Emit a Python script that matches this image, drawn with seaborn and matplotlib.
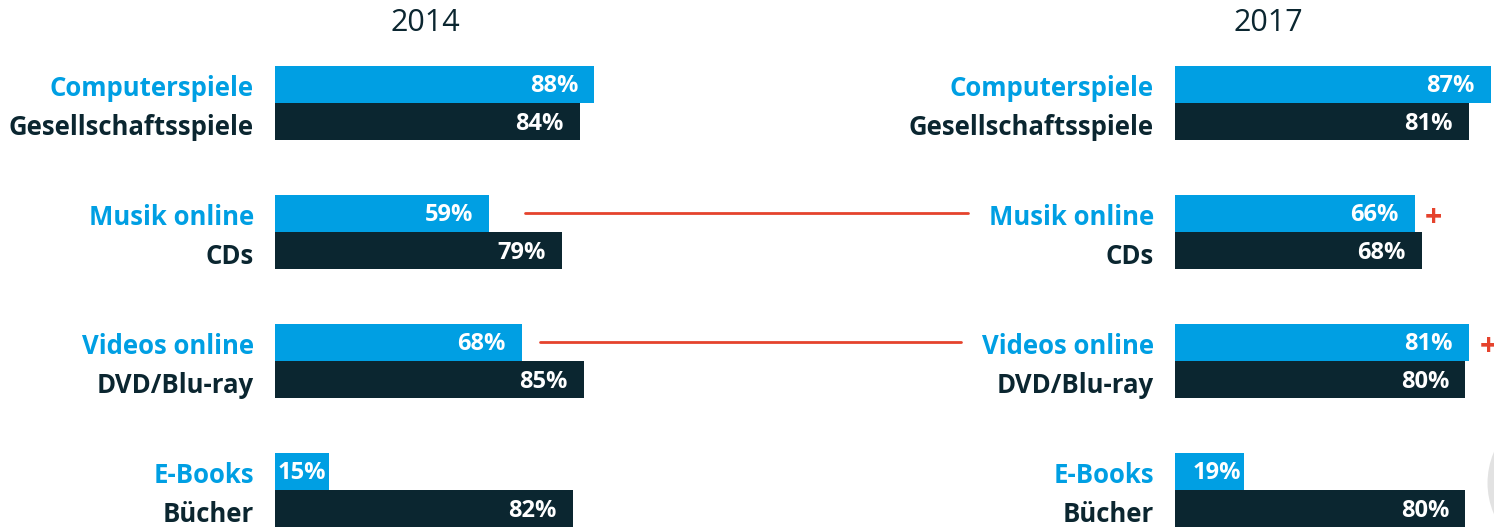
import pandas as pd
import matplotlib.pyplot as plt
import matplotlib.patches as mpatches
from matplotlib.lines import Line2D
import seaborn as sns

# Values.
digital_names = ['Computerspiele', 'Musik online', 'Videos online', 'E-Books']
physical_names = ['Gesellschaftsspiele', 'CDs', 'DVD/Blu-ray', 'Bücher']
digital_2014 = [88, 59, 68, 15]
physical_2014 = [84, 79, 85, 82]
digital_2017 = [87, 66, 81, 19]
physical_2017 = [81, 68, 80, 80]
years = ['2014', '2017']
growth_rows = [1, 2]  # rows marked with a red line and "+"

BLUE = '#009fe3'
DARK = '#0b2630'
RED = '#e5432d'

sns.set_style('white')
plt.rcParams['font.family'] = ['Open Sans', 'DejaVu Sans']

W, H = 1494, 528
fig = plt.figure(figsize=(W / 100, H / 100), dpi=100)
px_per_pct = 3.63
bar_start = [275, 1175]

def make_df(dig, phys):
    rows = []
    for i in range(len(dig)):
        rows.append({'group': str(i), 'kind': 'digital', 'value': dig[i]})
        rows.append({'group': str(i), 'kind': 'physical', 'value': phys[i]})
    return pd.DataFrame(rows)

panels = [(digital_2014, physical_2014), (digital_2017, physical_2017)]
axes = []
label_boxes = {}
for p, (dig, phys) in enumerate(panels):
    x0 = bar_start[p]
    width_px = (W - x0) if p == 1 else 363
    ax = fig.add_axes([x0 / W, 0, width_px / W, 1])
    df = make_df(dig, phys)
    sns.barplot(data=df, y='group', x='value', hue='kind', palette=[BLUE, DARK],
                width=0.58, orient='h', ax=ax, legend=False, linewidth=0,
                saturation=1)
    ax.set_xlim(0, width_px / px_per_pct)
    ax.set_ylim(3.295, -0.798)
    ax.axis('off')
    axes.append(ax)

    names = [digital_names, physical_names]
    colors = [BLUE, DARK]
    label_dy = [-4, -6]
    for k, cont in enumerate(ax.containers):
        for i, bar in enumerate(cont):
            yc = bar.get_y() + bar.get_height() / 2
            v = bar.get_width()
            t = ax.annotate(names[k][i], xy=(0, yc), xytext=(-21, label_dy[k]),
                            textcoords='offset pixels', ha='right', va='center',
                            color=colors[k], fontsize=18.5, fontweight='bold')
            label_boxes[(p, k, i)] = (t, yc)
            pad = 3 if v < 25 else 16
            ax.annotate(f'{int(v)}%', xy=(v, yc), xytext=(-pad, -2),
                        textcoords='offset pixels', ha='right', va='center',
                        color='white', fontsize=17, fontweight='bold')
            if p == 1 and k == 0 and i in growth_rows:
                ax.annotate('+', xy=(v, yc), xytext=(19, -5),
                            textcoords='offset pixels', ha='center', va='center',
                            color=RED, fontsize=22, fontweight='bold',
                            annotation_clip=False)

fig.text(425 / W, 1 - 23 / H, years[0], ha='center', va='center',
         fontsize=22, color=DARK)
fig.text(1268 / W, 1 - 23 / H, years[1], ha='center', va='center',
         fontsize=22, color=DARK)

# Red connector lines between the two panels.
fig.canvas.draw()
renderer = fig.canvas.get_renderer()
start_gap = {1: 36, 2: 18}
for i in growth_rows:
    bar = axes[0].containers[0][i]
    yc = bar.get_y() + bar.get_height() / 2
    x_a, y_a = axes[0].transData.transform((bar.get_width(), yc))
    t, _ = label_boxes[(1, 0, i)]
    bb = t.get_window_extent(renderer)
    x_b = bb.x0 - 21
    x_a = x_a + start_gap[i]
    fig.add_artist(Line2D([x_a / W, x_b / W], [y_a / H, y_a / H],
                          transform=fig.transFigure, color=RED, lw=2))

# Light grey arc at the lower right edge.
fig.add_artist(mpatches.Arc((1566 / W, 45 / H), 150 / W, 150 / H,
                            transform=fig.transFigure, color='#e2e2e2', lw=5))

fig.savefig('out.png', dpi=100)
